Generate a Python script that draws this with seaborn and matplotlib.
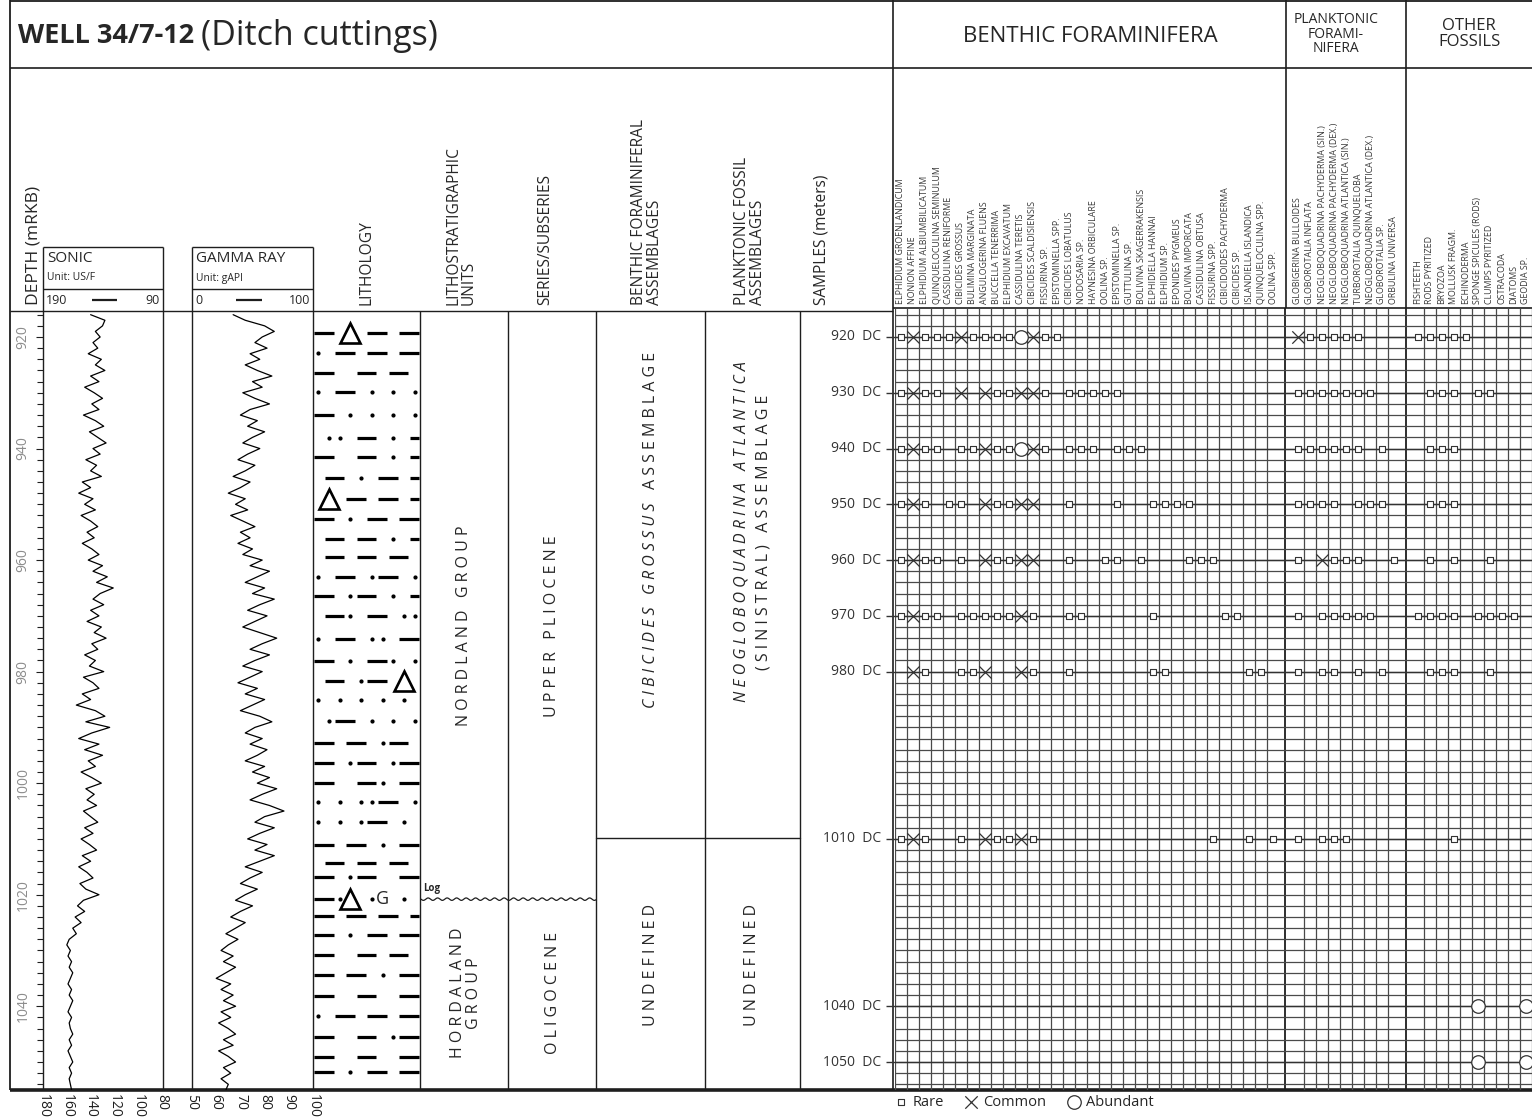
import matplotlib
matplotlib.use("Agg")
import numpy as np
import pandas as pd
import matplotlib.pyplot as plt
import seaborn as sns

W, H = 1532, 1120

# ---- well log data (depth in m, 1 m steps) ----
log_depth = list(range(916, 1056))
sonic = [140, 128, 130, 136, 132, 138, 134, 142, 131, 136, 128, 140, 133, 145, 137, 130, 139, 133, 146, 136,
         129, 141, 134, 127, 138, 132, 144, 135, 140, 131, 147, 140, 150, 138, 145, 136, 148, 140, 134, 143,
         137, 147, 139, 133, 142, 130, 138, 126, 135, 121, 132, 138, 129, 140, 133, 143, 131, 137, 127, 139,
         134, 145, 136, 141, 129, 146, 138, 133, 147, 140, 152, 136, 128, 144, 124, 139, 150, 133, 145, 130,
         142, 136, 148, 139, 131, 144, 137, 143, 135, 146, 140, 134, 145, 138, 148, 141, 135, 147, 140, 150,
         143, 138, 149, 144, 133, 146, 151, 145, 153, 148, 155, 152, 158, 160, 157, 159, 156, 158, 155, 157,
         159, 156, 158, 155, 157, 159, 156, 158, 157, 155, 158, 156, 159, 157, 155, 158, 156, 158, 157, 156]
gamma = [67, 72, 80, 84, 79, 76, 81, 74, 78, 72, 77, 83, 75, 79, 71, 76, 82, 74, 70, 77,
         73, 80, 75, 71, 78, 73, 69, 76, 72, 67, 74, 70, 65, 72, 68, 73, 66, 71, 76, 70,
         74, 69, 75, 71, 79, 74, 82, 77, 72, 80, 75, 84, 78, 73, 81, 76, 71, 78, 85, 79,
         74, 82, 76, 71, 79, 74, 69, 77, 72, 80, 75, 70, 78, 83, 76, 72, 79, 74, 81, 77,
         72, 80, 75, 82, 77, 85, 79, 74, 82, 88, 80, 76, 84, 78, 73, 81, 76, 84, 78, 72,
         79, 74, 70, 77, 72, 68, 75, 70, 66, 72, 68, 64, 69, 65, 62, 67, 63, 68, 64, 60,
         66, 62, 67, 63, 68, 62, 66, 61, 65, 68, 63, 67, 61, 65, 68, 63, 66, 62, 65, 64]
sonic_ticks = [180, 160, 140, 120, 100, 80]
gamma_ticks = [50, 60, 70, 80, 90, 100]
depth_ticks = [920, 940, 960, 980, 1000, 1020, 1040]

# ---- species ----
benthic_species = [
    "ELPHIDIUM GROENLANDICUM", "NONION AFFINE", "ELPHIDIUM ALBIUMBILICATUM", "QUINQUELOCULINA SEMINULUM",
    "CASSIDULINA RENIFORME", "CIBICIDES GROSSUS", "BULIMINA MARGINATA", "ANGULOGERINA FLUENS",
    "BUCCELLA TENERRIMA", "ELPHIDIUM EXCAVATUM", "CASSIDULINA TERETIS", "CIBICIDES SCALDISIENSIS",
    "FISSURINA SP.", "EPISTOMINELLA SPP.", "CIBICIDES LOBATULUS", "NODOSARIA SP.",
    "HAYNESINA ORBICULARE", "OOLINA SP.", "EPISTOMINELLA SP.", "GUTTULINA SP.",
    "BOLIVINA SKAGERRAKENSIS", "ELPHIDIELLA HANNAI", "ELPHIDIUM SP.", "EPONIDES PYGMEUS",
    "BOLIVINA IMPORCATA", "CASSIDULINA OBTUSA", "FISSURINA SPP.", "CIBICIDOIDES PACHYDERMA",
    "CIBICIDES SP.", "ISLANDIELLA ISLANDICA", "QUINQUELOCULINA SPP.", "OOLINA SPP."]
planktonic_species = [
    "GLOBIGERINA BULLOIDES", "GLOBOROTALIA INFLATA", "NEOGLOBOQUADRINA PACHYDERMA (SIN.)",
    "NEOGLOBOQUADRINA PACHYDERMA (DEX.)", "NEOGLOBOQUADRINA ATLANTICA (SIN.)", "TURBOROTALIA QUINQUELOBA",
    "NEOGLOBOQUADRINA ATLANTICA (DEX.)", "GLOBOROTALIA SP.", "ORBULINA UNIVERSA"]
other_species = [
    "FISHTEETH", "RODS PYRITIZED", "BRYOZOA", "MOLLUSK FRAGM.", "ECHINODERMA",
    "SPONGE SPICULES (RODS)", "CLUMPS PYRITIZED", "OSTRACODA", "DIATOMS", "GEODIA SP."]

# ---- occurrences per sample: r = rare, c = common, a = abundant ----
sample_depths = [920, 930, 940, 950, 960, 970, 980, 1010, 1040, 1050]
benthic_occ = [
    "rcrrrcrrrracrr..................",
    "rcrr.c.crrccr.rrrrr.............",
    "rcrr.rrcrracr.rrr.rrr...........",
    "rcr.rr.crrcc..r...r..rrrr.......",
    "rcrr.r.crrcc..r..rr.r...rrr.....",
    "rcrr.rrrrrcr..rr.....r.....rr...",
    ".cr..rrc..cr..r......rr......rr.",
    "rcr..r.crrcr..............r..r.r",
    "................................",
    "................................"]
planktonic_occ = ["crrrrr...", "rrrrrrr..", "rrrrrr.r.", "rrrr.rrr.", "r.crrr..r",
                  "r.rrrrr..", "r.rr.r.r.", "r.rrr....", ".........", "........."]
other_occ = ["rrrrr.....", ".rrr.rr...", ".rrr......", ".rrr......", ".r.r..r...",
             "rrrr.rrrr.", ".rrr..r...", "...r......", ".....a...a", ".....a...a"]

# ---- lithology pattern rows (= shale dash, . silt, ^ chert, G glauconite) ----
lith_depths = [919.3, 922.9, 926.5, 929.9, 934.0, 938.1, 941.5, 945.3, 949.0, 952.6, 956.2, 959.4, 963.0,
               966.4, 970.0, 974.2, 978.1, 981.7, 985.1, 988.9, 992.8, 996.4, 1000.0, 1003.4, 1007.0, 1011.1,
               1014.3, 1016.8, 1020.8, 1023.8, 1027.2, 1030.8, 1034.4, 1038.2, 1041.8, 1045.5, 1049.1, 1051.8]
lith_rows = ["== ^ == ==", ". == == ==", "==  == == ", ". == . . .", "== . . . .", " .. == . =",
             "==  == . =", " == . == =", " ^ == == =", "== . == ==", " == == . =", " == == == ",
             ". == .== .", "== .== . =", " ==. == ..", ". == .. ==", "== . ==. .", " == .== ^ ",
             ". . . . . ", " .== . . .", "== == .== ", "== .== .==", "==  ==. ==", ". . ..== .",
             ". . .== . ", "== == . ==", " == == == ", "== .==  ==", "==.^ .G . ", "== == == =",
             "== . == ==", "==  == == ", "== == . ==", "==  ==  ==", ". == == ==", "==  == .==",
             "==  ==  ==", "== . == =="]

zone_boundary = 1009.8
unconformity = 1020.8

PX_PER_M = 5.577


def depth_at(y):
    return 920 + (y - 337) / PX_PER_M


sns.set_theme(style="white")
plt.rcParams["font.family"] = ["Open Sans", "DejaVu Sans"]
INK = "#1e1e1e"
NARROW = ["Liberation Sans Narrow", "Open Sans", "DejaVu Sans"]

fig = plt.figure(figsize=(W / 100, H / 100), dpi=100)


def px_axes(x0, x1, y0, y1):
    ax = fig.add_axes([x0 / W, 1 - y1 / H, (x1 - x0) / W, (y1 - y0) / H])
    ax.set_facecolor("none")
    return ax


bg = px_axes(0, W, 0, H)
bg.set_xlim(0, W)
bg.set_ylim(H, 0)
bg.axis("off")


def line(x, y, lw=1.0, color=INK, **kw):
    bg.plot(x, y, color=color, lw=lw, solid_capstyle="butt", **kw)


# frame and column separators
line([10, 10], [0, 1090], lw=1.3)
line([10, W], [1, 1], lw=1.3)
line([10, W], [68, 68], lw=1.2)
line([893, 893], [0, 1090], lw=1.2)
line([1285.5, 1285.5], [0, 308], lw=1.2)
line([1405.8, 1405.8], [0, 308], lw=1.2)
line([893, W], [308, 308], lw=1.2)
line([10, 893], [311, 311], lw=1.0)
for x in [43, 163, 192, 313]:
    line([x, x], [247, 1090], lw=1.0)
for x0, x1 in [(43, 163), (192, 313)]:
    line([x0, x1], [247, 247], lw=1.0)
    line([x0, x1], [289, 289], lw=1.0)
for x in [420, 508, 596, 705, 800]:
    line([x, x], [311, 1090], lw=1.0)
line([10, W], [1090, 1090], lw=2.6)

# title
r = fig.canvas.get_renderer()
t1 = bg.text(18, 36, "WELL 34/7-12", fontsize=19.5, fontweight="bold", va="center")
x_end = t1.get_window_extent(r).x1
bg.text(x_end + 7, 36, "(Ditch cuttings)", fontsize=24.5, va="center")
bg.text(1090, 36, "BENTHIC FORAMINIFERA", fontsize=16, ha="center", va="center")
bg.text(1336, 34, "PLANKTONIC\nFORAMI-\nNIFERA", fontsize=10, ha="center", va="center", linespacing=0.95)
bg.text(1469, 34, "OTHER\nFOSSILS", fontsize=12, ha="center", va="center", linespacing=1.0)

# rotated column headers
for x, txt in [(33, "DEPTH (mRKB)"), (367, "LITHOLOGY"), (461, "LITHOSTRATIGRAPHIC\nUNITS"),
               (545, "SERIES/SUBSERIES"), (647, "BENTHIC FORAMINIFERAL\nASSEMBLAGES"),
               (750, "PLANKTONIC FOSSIL\nASSEMBLAGES"), (822, "SAMPLES (meters)")]:
    bg.text(x, 305, txt, rotation=90, rotation_mode="anchor", ha="left", va="center",
            fontsize=12.5 if x == 33 else 11.2, linespacing=0.95)

# log header boxes
for x0, x1, name, unit, lo, hi, d0, d1 in [(43, 163, "SONIC", "Unit: US/F", "190", "90", 92, 117),
                                            (192, 313, "GAMMA RAY", "Unit: gAPI", "0", "100", 236, 262)]:
    bg.text(x0 + 4, 259, name, fontsize=11, va="center")
    bg.text(x0 + 4, 278, unit, fontsize=7.5, va="center")
    bg.text(x0 + 3, 300, lo, fontsize=9, va="center")
    bg.text(x1 - 3, 300, hi, fontsize=9, va="center", ha="right")
    line([d0, d1], [300, 300], lw=1.6)

# ---- log tracks ----
logs = pd.DataFrame({"depth": log_depth, "sonic": sonic, "gamma": gamma})
ylo, yhi = depth_at(1090), depth_at(312)

ax_s = px_axes(43, 163, 312, 1090)
sns.lineplot(data=logs, x="sonic", y="depth", orient="y", sort=False, estimator=None,
             color="black", lw=0.9, ax=ax_s)
ax_s.set_xlim(178.3, 79.2)
ax_s.set_ylim(ylo, yhi)

ax_g = px_axes(192, 313, 312, 1090)
sns.lineplot(data=logs, x="gamma", y="depth", orient="y", sort=False, estimator=None,
             color="black", lw=0.9, ax=ax_g)
ax_g.set_xlim(50, 100)
ax_g.set_ylim(ylo, yhi)

for ax, ticks in [(ax_s, sonic_ticks), (ax_g, gamma_ticks)]:
    for sp in ax.spines.values():
        sp.set_visible(False)
    ax.set_xlabel("")
    ax.set_ylabel("")
    ax.set_xticks(ticks)
    ax.set_xticklabels([str(t) for t in ticks], rotation=-90, fontsize=10, color=INK)
    ax.tick_params(axis="x", length=0, pad=3)
    ax.grid(False)
ax_g.set_yticks([])
ax_s.set_yticks(depth_ticks)
ax_s.set_yticks(np.arange(916, 1055, 2), minor=True)
ax_s.set_yticklabels([str(d) for d in depth_ticks], rotation=90, va="center", fontsize=10, color="#8c8c8c")
ax_s.tick_params(axis="y", which="major", left=True, length=5, width=0.8, color=INK, pad=4)
ax_s.tick_params(axis="y", which="minor", left=True, length=4, width=0.8, color=INK)

# ---- lithology ----
ax_l = px_axes(313, 420, 312, 1090)
ax_l.set_xlim(0, 10)
ax_l.set_ylim(ylo, yhi)
ax_l.axis("off")
for d, row in zip(lith_depths, lith_rows):
    i = 0
    while i < len(row):
        ch = row[i]
        if ch == "=":
            j = i
            while j + 1 < len(row) and row[j + 1] == "=":
                j += 1
            ax_l.plot([i + 0.08, j + 0.92], [d, d], color="black", lw=2.3, solid_capstyle="butt")
            i = j + 1
            continue
        if ch == ".":
            ax_l.plot(i + 0.5, d, "o", color="black", ms=2.0)
        elif ch == "^":
            ax_l.plot(i + 0.5, d, "^", ms=14, mfc="white", mec="black", mew=1.9)
        elif ch == "G":
            ax_l.text(i + 0.5, d, "G", ha="center", va="center", fontsize=13)
        i += 1

# ---- zones ----
ax_z = px_axes(420, 893, 312, 1090)
ax_z.set_xlim(420, 893)
ax_z.set_ylim(ylo, yhi)
ax_z.axis("off")
ax_z.plot([596, 800], [zone_boundary, zone_boundary], color=INK, lw=1.0)
wx = np.linspace(421, 596, 400)
ax_z.plot(wx, unconformity + 0.22 * np.sin(2 * np.pi * (wx - 421) / 9.5), color=INK, lw=0.9)
ax_z.text(423, unconformity - 0.9, "Log", fontsize=7, fontweight="bold", va="bottom")


def spaced(s):
    return "   ".join(" ".join(w) for w in s.split(" "))


ZS = 11.5
bg.text(464, 626, spaced("NORDLAND GROUP"), rotation=90, ha="center", va="center", fontsize=ZS)
bg.text(466, 993, spaced("HORDALAND") + "\n" + spaced("GROUP"), rotation=90, ha="center", va="center",
        fontsize=ZS, linespacing=1.0, multialignment="center")
bg.text(552, 626, spaced("UPPER PLIOCENE"), rotation=90, ha="center", va="center", fontsize=ZS)
bg.text(553, 993, spaced("OLIGOCENE"), rotation=90, ha="center", va="center", fontsize=ZS)
bg.text(651, 965, spaced("UNDEFINED"), rotation=90, ha="center", va="center", fontsize=ZS)
bg.text(752, 965, spaced("UNDEFINED"), rotation=90, ha="center", va="center", fontsize=ZS)
bg.text(742, 532, spaced("NEOGLOBOQUADRINA ATLANTICA"), rotation=90, ha="center", va="center",
        fontsize=ZS, style="italic")
bg.text(763, 532, spaced("(SINISTRAL) ASSEMBLAGE"), rotation=90, ha="center", va="center", fontsize=ZS)

parts = [bg.text(651, 530, spaced("CIBICIDES GROSSUS"), rotation=90, ha="center", va="center",
                 fontsize=ZS, style="italic"),
         bg.text(651, 530, spaced("ASSEMBLAGE"), rotation=90, ha="center", va="center", fontsize=ZS)]
hs = [p.get_window_extent(r).height for p in parts]
gap = 13
yb = 530 + (sum(hs) + gap) / 2
for p, h in zip(parts, hs):
    p.set_y(yb - h / 2)
    yb -= h + gap

# ---- occurrence grid ----
n_cols = 53
ax_c = px_axes(894.7, W, 308, 1090)
ax_c.set_xlim(-0.5, n_cols - 0.5)
ax_c.set_ylim(depth_at(1090), depth_at(308))
ax_c.axis("off")

groups = [(0, benthic_species, benthic_occ), (33, planktonic_species, planktonic_occ),
          (43, other_species, other_occ)]
skip = {32, 33, 42, 43}
vx = [k - 0.5 for k in range(n_cols + 1) if k not in skip]
ax_c.vlines(vx, depth_at(1090), depth_at(308), color="#4a4a4a", lw=0.9)
ax_c.vlines([32, 42], depth_at(1090), depth_at(308), color=INK, lw=1.3)
ax_c.hlines(np.arange(916, 1055, 2), -0.5, n_cols - 0.5, color="#4a4a4a", lw=0.9)
ax_c.hlines(sample_depths, -1.25, n_cols - 0.5, color="#333333", lw=1.0, clip_on=False)

label_depth = depth_at(304)
for start, names, _ in groups:
    for k, name in enumerate(names):
        ax_c.text(start + k, label_depth, name, rotation=90, rotation_mode="anchor", ha="left",
                  va="center", fontsize=6.4, color="#3a3a3a", clip_on=False, family=NARROW)

pts = {"r": ([], []), "c": ([], []), "a": ([], [])}
for start, names, occ in groups:
    for d, codes in zip(sample_depths, occ):
        for k, code in enumerate(codes):
            if code in pts:
                pts[code][0].append(start + k)
                pts[code][1].append(d)

h_r = ax_c.scatter(pts["r"][0], pts["r"][1], marker="s", s=24, facecolor="white", edgecolor="#333333",
                   lw=0.8, zorder=3)
h_c = ax_c.scatter(pts["c"][0], pts["c"][1], marker="x", s=80, color="#333333", lw=0.9, zorder=3)
h_a = ax_c.scatter(pts["a"][0], pts["a"][1], marker="o", s=95, facecolor="white", edgecolor="#333333",
                   lw=0.9, zorder=3)

for d in sample_depths:
    ax_c.text(-1.6, d, f"{d}  DC", ha="right", va="center", fontsize=10, color="#333333", clip_on=False)

ax_c.legend([h_r, h_c, h_a], ["Rare", "Common", "Abundant"], loc="upper left",
            bbox_to_anchor=(-0.002, -0.006), ncol=3, frameon=False, fontsize=10.5,
            handletextpad=0.3, columnspacing=1.4, borderpad=0, borderaxespad=0, handlelength=1.0)

fig.savefig("out.png", dpi=100)
